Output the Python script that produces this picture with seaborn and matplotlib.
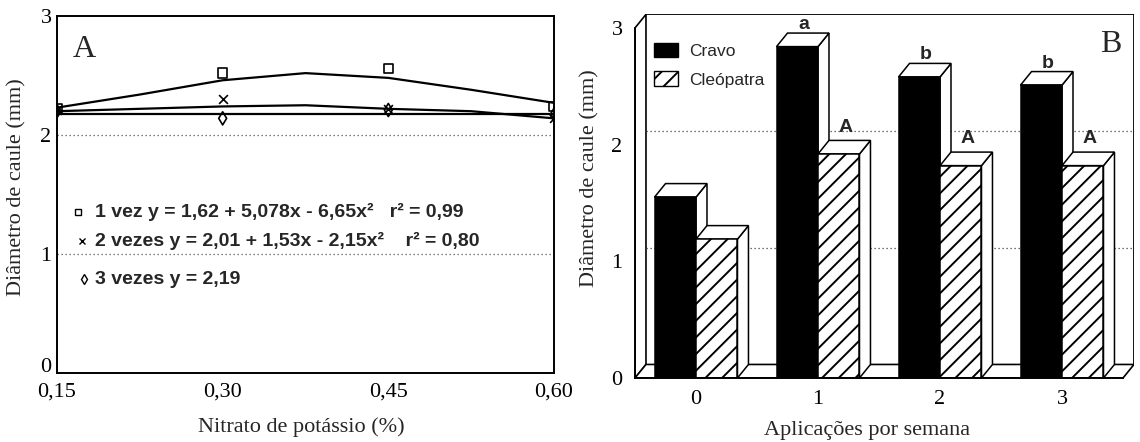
import numpy as np
import pandas as pd
import matplotlib
matplotlib.use("Agg")
import matplotlib.pyplot as plt
import seaborn as sns
from matplotlib.patches import Polygon, Patch, Rectangle
from matplotlib.font_manager import FontProperties
from matplotlib.transforms import ScaledTranslation

# ---------------- data: panel A ----------------
nitrato = [0.15, 0.30, 0.45, 0.60]
nitrato_labels = ["0,15", "0,30", "0,45", "0,60"]
vez1 = [2.22, 2.52, 2.56, 2.24]
vez2 = [2.21, 2.30, 2.22, 2.14]
vez3 = [2.20, 2.14, 2.21, 2.17]
curve_x = [0.15, 0.225, 0.30, 0.375, 0.45, 0.525, 0.60]
curve1 = [2.23, 2.34, 2.46, 2.52, 2.48, 2.38, 2.27]
curve2 = [2.20, 2.22, 2.24, 2.25, 2.22, 2.20, 2.14]
curve3_x = [0.15, 0.60]
curve3 = [2.18, 2.18]
yticks_A = [0, 1, 2, 3]
eq_labels = ["1 vez y = 1,62 + 5,078x - 6,65x²   r² = 0,99",
             "2 vezes y = 2,01 + 1,53x - 2,15x²    r² = 0,80",
             "3 vezes y = 2,19"]

# ---------------- data: panel B ----------------
aplic = ["0", "1", "2", "3"]
cravo = [1.55, 2.84, 2.58, 2.51]
cleo = [1.19, 1.92, 1.82, 1.82]
letters_cravo = ["", "a", "b", "b"]
letters_cleo = ["", "A", "A", "A"]
porta = ["Cravo", "Cleópatra"]
yticks_B = [0, 1, 2, 3]

sns.set_style("white")
plt.rcParams["font.family"] = ["Liberation Serif", "DejaVu Serif"]
plt.rcParams["hatch.linewidth"] = 1.4
SANS = "Liberation Sans"

fig = plt.figure(figsize=(11.4, 4.42), dpi=100)
W, H = 1140, 442

def fig_axes(l, r, t, b):
    return fig.add_axes([l / W, 1 - b / H, (r - l) / W, (b - t) / H])

# ================= Panel A =================
axA = fig_axes(57, 554, 16, 373)
for cx, cy in [(curve_x, curve1), (curve_x, curve2), (curve3_x, curve3)]:
    sns.lineplot(x=cx, y=cy, color="black", lw=1.6, ax=axA, zorder=3)

sns.scatterplot(x=nitrato, y=vez1, marker="s", s=45, color="black", ax=axA, zorder=4)
axA.collections[-1].set_facecolor("none"); axA.collections[-1].set_edgecolor("black")
axA.collections[-1].set_linewidth(1.2)
sns.scatterplot(x=nitrato, y=vez2, marker="x", s=40, color="black", linewidth=1.2, ax=axA, zorder=4)
sns.scatterplot(x=nitrato, y=vez3, marker="d", s=45, color="black", ax=axA, zorder=4)
axA.collections[-1].set_facecolor("none"); axA.collections[-1].set_edgecolor("black")
axA.collections[-1].set_linewidth(1.2)

for v in [1, 2]:
    axA.axhline(v, color="#555555", lw=0.9, ls=(0, (1, 2.2)), zorder=1)

axA.set_xlim(0.15, 0.60)
axA.set_ylim(0, 3)
axA.set_xticks(nitrato)
axA.set_xticklabels(nitrato_labels)
axA.set_yticks(yticks_A)
axA.set_yticklabels([str(v) for v in yticks_A])
axA.tick_params(direction="in", length=6, width=1, labelsize=16, pad=4, colors="black")
axA.tick_params(axis="x", pad=7)
# raise the "0" y label slightly, as in the reference, so it clears "0,15"
lab0 = axA.get_yticklabels()[0]
lab0.set_transform(lab0.get_transform() + ScaledTranslation(0, 6 / 72, fig.dpi_scale_trans))
for s in axA.spines.values():
    s.set_visible(True); s.set_color("black"); s.set_linewidth(1.4)
axA.set_xlabel("Nitrato de potássio (%)", fontsize=16)
axA.set_ylabel("Diâmetro de caule (mm)", fontsize=16)
axA.xaxis.set_label_coords(0.492, -0.125)
axA.yaxis.set_label_coords(-0.062, 0.52)
axA.text(0.032, 0.905, "A", transform=axA.transAxes, fontsize=23, va="center", ha="left")

leg_rows_y = [212, 241, 279]
leg_markers = [("s", 5, 78), ("x", 4.5, 82), ("d", 5, 84)]
for (mk, ms, mx), ry, lab in zip(leg_markers, leg_rows_y, eq_labels):
    ya = (373 - ry) / 357
    axA.plot([(mx - 57) / 497], [ya], marker=mk, ms=ms, mfc="none", mec="black",
             mew=1, transform=axA.transAxes, clip_on=False, ls="none")
    axA.text((95 - 57) / 497, ya, lab, transform=axA.transAxes, fontsize=14,
             fontweight="bold", family=SANS, va="center", ha="left")

# ================= Panel B =================
dx, dy = 0.09, 0.116
axB = fig_axes(635, 1134, 14.4, 378)
df = pd.DataFrame({"aplic": aplic * 2, "diam": cravo + cleo,
                   "porta": [porta[0]] * 4 + [porta[1]] * 4})
sns.barplot(data=df, x="aplic", y="diam", hue="porta", hue_order=porta,
            palette={"Cravo": "black", "Cleópatra": "white"}, width=0.68,
            saturation=1, edgecolor="black", linewidth=1.1, errorbar=None,
            legend=False, ax=axB)

axB.set_xlim(-0.5, 3.5 + dx)
axB.set_ylim(0, 3 + dy)
x0w, x1w = -0.5, 3.5

# walls and floor
axB.add_patch(Polygon([(x0w, 0), (x0w, 3), (x0w + dx, 3 + dy), (x0w + dx, dy)],
                      closed=True, fc="white", ec="black", lw=1.2, zorder=1))
axB.add_patch(Polygon([(x0w, 0), (x0w + dx, dy), (x1w + dx, dy), (x1w, 0)],
                      closed=True, fc="white", ec="black", lw=1.2, zorder=1.5))
axB.plot([x0w + dx, x1w + dx, x1w + dx], [3 + dy, 3 + dy, dy], color="black", lw=1.3, zorder=1)
for v in [1, 2]:
    axB.plot([x0w + dx, x1w + dx], [v + dy, v + dy], color="#444444", lw=0.9,
             ls=(0, (1, 2.2)), zorder=1.2)

bars = sorted([p for p in axB.patches if isinstance(p, Rectangle) and p.get_height() > 0],
              key=lambda p: p.get_x())
bars = [p for p in bars if abs(p.get_width() - 0.34) < 0.05]
letters = {}
for i, lab in enumerate(aplic):
    letters[(i, 0)] = letters_cravo[i]
    letters[(i, 1)] = letters_cleo[i]
for k, p in enumerate(bars):
    x0, w, h = p.get_x(), p.get_width(), p.get_height()
    base = 3 + k * 0.1
    is_cleo = p.get_facecolor()[0] > 0.5
    if is_cleo:
        p.set_hatch("//")
    p.set_zorder(base + 0.02)
    axB.add_patch(Polygon([(x0 + w, 0), (x0 + w + dx, dy), (x0 + w + dx, h + dy), (x0 + w, h)],
                          closed=True, fc="white", ec="black", lw=1.1, zorder=base))
    axB.add_patch(Polygon([(x0, h), (x0 + dx, h + dy), (x0 + w + dx, h + dy), (x0 + w, h)],
                          closed=True, fc="white", ec="black", lw=1.1, zorder=base + 0.01))
    gi = k // 2
    lt = letters[(gi, 1 if is_cleo else 0)]
    if lt:
        axB.text(x0 + w / 2 + dx * 0.6, h + dy + (0.04 if is_cleo else 0.0), lt,
                 fontsize=14, fontweight="bold", family=SANS, ha="center", va="bottom",
                 zorder=base - 0.005)

axB.spines["top"].set_visible(False)
axB.spines["right"].set_visible(False)
axB.spines["left"].set_bounds(0, 3)
axB.spines["bottom"].set_bounds(-0.5, 3.5)
for s in ["left", "bottom"]:
    axB.spines[s].set_color("black"); axB.spines[s].set_linewidth(1.4)
    axB.spines[s].set_zorder(20)
axB.set_yticks(yticks_B)
axB.set_yticklabels([str(v) for v in yticks_B])
axB.tick_params(direction="out", length=6, width=1, labelsize=16, pad=3, colors="black")
axB.set_xlabel("Aplicações por semana", fontsize=16)
axB.set_ylabel("Diâmetro de caule (mm)", fontsize=16)
axB.xaxis.set_label_coords(0.466, -0.118)
axB.yaxis.set_label_coords(-0.072, 0.55)
axB.text(0.974, 0.918, "B", transform=axB.transAxes, fontsize=23, va="center", ha="right", zorder=30)

handles = [Patch(fc="black", ec="black"), Patch(fc="white", ec="black", hatch="//")]
leg = axB.legend(handles, porta, loc="upper left", bbox_to_anchor=(654 / W, 1 - 43 / H),
                 bbox_transform=fig.transFigure, frameon=False,
                 prop=FontProperties(family=SANS, size=12.5), handlelength=1.4,
                 handleheight=0.9, handletextpad=0.6, labelspacing=0.7,
                 borderpad=0, borderaxespad=0)
leg.set_zorder(40)

fig.savefig("out.png", dpi=100)
